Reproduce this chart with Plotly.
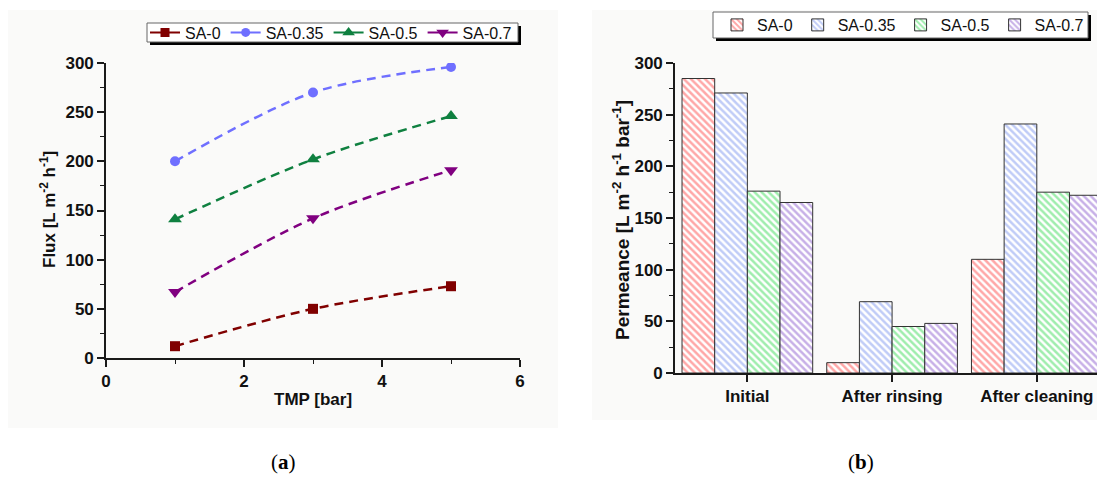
import plotly.graph_objects as go

W, H = 1097, 477

# ---------------- data ----------------
tmp_bar = [1, 3, 5]
flux_sa0 = [12, 50, 73]
flux_sa035 = [200, 270, 296]
flux_sa05 = [141, 202, 246]
flux_sa07 = [67, 142, 191]

stages = ["Initial", "After rinsing", "After cleaning"]
perm_sa0 = [285, 10, 110]
perm_sa035 = [271, 69, 241]
perm_sa05 = [176, 45, 175]
perm_sa07 = [165, 48, 172]

series_names = ["SA-0", "SA-0.35", "SA-0.5", "SA-0.7"]
line_colors = ["#800000", "#6f6fff", "#0f8040", "#800080"]
line_symbols = ["square", "circle", "triangle-up", "triangle-down"]
line_sizes = [10, 10, 12, 12]
bar_colors = ["#ff5050", "#8299f0", "#3fdc5c", "#9062d0"]

FONT = "Liberation Sans"


def px(x):
    return x / W


def py(y):
    return 1 - y / H


fig = go.Figure()

# ---------------- panel (a): flux vs TMP ----------------
flux_series = [flux_sa0, flux_sa035, flux_sa05, flux_sa07]
for name, vals, col, sym, sz in zip(series_names, flux_series, line_colors, line_symbols, line_sizes):
    fig.add_trace(go.Scatter(
        x=tmp_bar, y=vals, mode="lines+markers", name=name,
        line=dict(color=col, width=2.5, dash="9px,6px", shape="spline", smoothing=0.9),
        marker=dict(color=col, symbol=sym, size=sz, line=dict(width=0)),
        xaxis="x", yaxis="y", showlegend=False,
    ))
    # legend entry with solid line (as in reference legend)
    fig.add_trace(go.Scatter(
        x=[None], y=[None], mode="lines+markers", name=name,
        line=dict(color=col, width=2),
        marker=dict(color=col, symbol=sym, size=sz - 1),
        xaxis="x", yaxis="y", legend="legend",
    ))

# ---------------- panel (b): permeance bars ----------------
perm_series = [perm_sa0, perm_sa035, perm_sa05, perm_sa07]
for name, vals, col in zip(series_names, perm_series, bar_colors):
    fig.add_trace(go.Bar(
        x=stages, y=vals, name=name,
        marker=dict(
            color="white",
            line=dict(color="#333333", width=1),
            pattern=dict(shape="\\", fgcolor=col, bgcolor="white", size=5, solidity=0.5),
        ),
        xaxis="x2", yaxis="y2", legend="legend2",
    ))

axis_common = dict(
    showline=True, linecolor="#1a1a1a", linewidth=1.6,
    ticks="outside", ticklen=7, tickwidth=1.5, tickcolor="#1a1a1a",
    tickfont=dict(family=FONT, size=17, color="#111111", weight="bold"),
    showgrid=False, zeroline=False, automargin=False,
)

fig.update_layout(
    width=W, height=H,
    margin=dict(l=0, r=0, t=0, b=0, pad=0, autoexpand=False),
    paper_bgcolor="white",
    plot_bgcolor="rgba(0,0,0,0)",
    barmode="group", bargap=0.097, bargroupgap=0,
    xaxis=dict(
        domain=[px(106), px(520)], range=[0, 6], anchor="y",
        tickvals=[0, 2, 4, 6],
        minor=dict(dtick=1, ticks="outside", ticklen=4, tickcolor="#1a1a1a", tickwidth=1.2),
        **axis_common,
    ),
    yaxis=dict(
        domain=[py(358), py(63)], range=[0, 300], anchor="x",
        tickvals=[0, 50, 100, 150, 200, 250, 300],
        minor=dict(dtick=25, ticks="outside", ticklen=4, tickcolor="#1a1a1a", tickwidth=1.2),
        **axis_common,
    ),
    xaxis2=dict(
        domain=[px(675), 1.0], range=[-0.5, 2.416], anchor="y2", type="category",
        **axis_common,
    ),
    yaxis2=dict(
        domain=[py(373), py(63)], range=[0, 300], anchor="x2",
        tickvals=[0, 50, 100, 150, 200, 250, 300],
        minor=dict(dtick=25, ticks="outside", ticklen=4, tickcolor="#1a1a1a", tickwidth=1.2),
        **axis_common,
    ),
    legend=dict(
        orientation="h", x=px(145), y=py(32.5), xanchor="left", yanchor="middle",
        bgcolor="rgba(0,0,0,0)", borderwidth=0,
        font=dict(family=FONT, size=16, color="#111111"),
        itemwidth=30, tracegroupgap=0,
    ),
    legend2=dict(
        orientation="h", x=px(717), y=py(25), xanchor="left", yanchor="middle",
        bgcolor="rgba(0,0,0,0)", borderwidth=0,
        font=dict(family=FONT, size=16, color="#111111"),
        itemwidth=30, tracegroupgap=0,
    ),
    showlegend=True,
)

# panel backgrounds
fig.add_shape(type="rect", xref="paper", yref="paper", x0=px(8), x1=px(558), y0=py(428), y1=py(10),
              fillcolor="#fafaf9", line=dict(width=0), layer="below")
fig.add_shape(type="rect", xref="paper", yref="paper", x0=px(592), x1=px(1097), y0=py(420), y1=py(10),
              fillcolor="#fafaf9", line=dict(width=0), layer="below")
# legend frames with drop shadows
for (x0, x1, y0, y1) in [(147, 518, 23, 42), (713, 1088, 12, 38)]:
    fig.add_shape(type="rect", xref="paper", yref="paper",
                  x0=px(x0 + 3), x1=px(x1 + 3), y0=py(y1 + 3), y1=py(y0 + 3),
                  fillcolor="black", line=dict(width=0), layer="above")
    fig.add_shape(type="rect", xref="paper", yref="paper",
                  x0=px(x0), x1=px(x1), y0=py(y1), y1=py(y0),
                  fillcolor="white", line=dict(color="#666666", width=1), layer="above")

title_font = dict(family=FONT, size=17, color="#111111", weight="bold")
fig.add_annotation(text="Flux [L m<sup>-2</sup> h<sup>-1</sup>]", textangle=-90,
                   xref="paper", yref="paper", x=px(48), y=py(210), xanchor="center", yanchor="middle",
                   showarrow=False, font=title_font)
fig.add_annotation(text="TMP [bar]", xref="paper", yref="paper", x=px(313), y=py(399),
                   xanchor="center", yanchor="middle", showarrow=False, font=title_font)
fig.add_annotation(text="Permeance [L m<sup>-2</sup> h<sup>-1</sup> bar<sup>-1</sup>]", textangle=-90,
                   xref="paper", yref="paper", x=px(621), y=py(220), xanchor="center", yanchor="middle",
                   showarrow=False, font=dict(family=FONT, size=19, color="#111111", weight="bold"))

cap_font = dict(family="Liberation Serif", size=21, color="black")
fig.add_annotation(text="(<b>a</b>)", xref="paper", yref="paper", x=px(283), y=py(462),
                   xanchor="center", yanchor="middle", showarrow=False, font=cap_font)
fig.add_annotation(text="(<b>b</b>)", xref="paper", yref="paper", x=px(861), y=py(462),
                   xanchor="center", yanchor="middle", showarrow=False, font=cap_font)

fig.write_html("out.html")
